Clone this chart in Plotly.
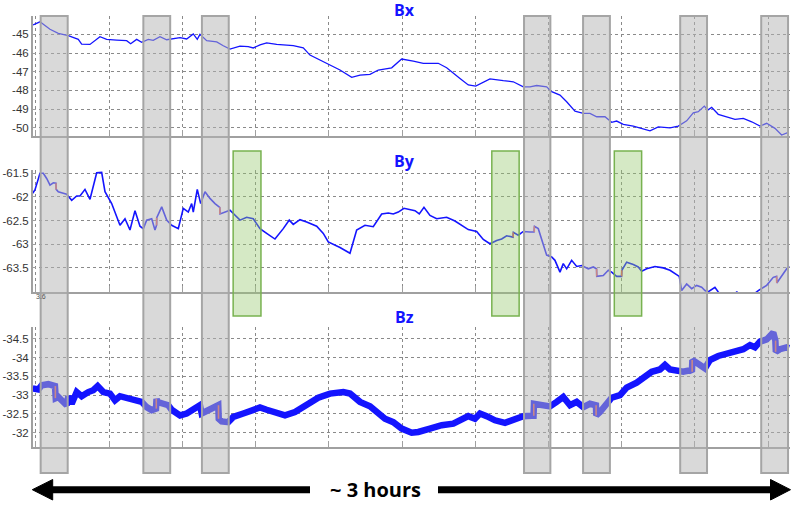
import plotly.graph_objects as go

# ---------------- data (time in minutes, field in nT) ----------------
bx_t = [-0.61, 0.82, 2.87, 4.57, 6.62, 8.67, 9.36, 11.06, 13.11, 14.49, 16.54, 18.58, 19.40, 20.63, 21.66,
        23.01, 24.03, 25.41, 26.78, 28.13, 29.51, 30.88, 32.23, 33.05, 33.60, 34.98, 37.03, 38.38, 39.75,
        41.80, 43.50, 44.52, 45.90, 47.27, 49.32, 52.72, 54.77, 56.14, 59.89, 62.29, 64.69, 66.39, 68.44,
        70.14, 72.88, 74.93, 77.31, 79.36, 82.43, 84.15, 86.88, 88.58, 90.10, 93.02, 95.75, 97.80, 99.85,
        101.22, 102.59, 104.64, 105.67, 107.37, 108.74, 110.44, 112.14, 113.51, 114.89, 116.59, 117.96,
        118.98, 120.34, 122.39, 125.81, 127.51, 129.91, 131.61, 133.33, 134.68, 135.71, 136.94, 137.63,
        138.45, 139.80, 141.53, 143.23, 144.93, 146.65, 148.35, 149.72, 151.42, 152.79, 154.15]
bx_v = [-44.50, -44.33, -44.73, -44.95, -45.07, -45.27, -45.52, -45.54, -45.13, -45.27, -45.31, -45.34, -45.50,
        -45.27, -45.43, -45.27, -45.32, -45.13, -45.29, -45.25, -45.18, -45.25, -44.98, -45.27, -45.00, -45.34,
        -45.41, -45.61, -45.79, -45.63, -45.66, -45.73, -45.57, -45.46, -45.54, -45.61, -45.72, -46.11, -46.61,
        -46.91, -47.30, -47.18, -47.14, -46.91, -46.79, -46.32, -46.43, -46.55, -46.55, -46.79, -47.36, -47.71,
        -47.77, -47.38, -47.48, -47.54, -47.81, -47.81, -47.74, -47.81, -48.07, -48.25, -48.61, -49.11, -49.23,
        -49.23, -49.41, -49.41, -49.71, -49.64, -49.82, -49.91, -50.16, -49.95, -50.00, -49.91, -49.63, -49.20,
        -49.14, -48.84, -49.05, -48.91, -49.28, -49.41, -49.55, -49.50, -49.68, -49.91, -49.76, -50.03, -50.39,
        -50.25]

by_t = [-0.68, -0.21, 0.82, 1.50, 2.19, 2.87, 3.55, 4.10, 4.15, 4.57,
        5.60, 6.29, 7.32, 8.34, 9.02, 10.04, 11.07, 12.44, 13.46, 14.14,
        15.51, 16.54, 17.21, 18.24, 19.26, 20.29, 21.31, 21.99, 22.68, 23.71,
        24.38, 24.70, 24.75, 25.76, 26.78, 27.80, 29.16, 30.18, 31.21, 31.90,
        32.23, 33.05, 33.75, 34.63, 35.65, 36.68, 37.65, 37.72, 39.75, 41.80,
        43.17, 44.52, 45.90, 47.27, 48.97, 50.67, 51.90, 52.72, 54.09, 55.47,
        57.52, 58.87, 59.89, 62.29, 64.34, 65.71, 67.41, 69.11, 70.83, 72.19,
        73.21, 74.24, 75.40, 77.66, 78.54, 79.50, 80.73, 82.10, 84.15, 85.85,
        88.58, 90.30, 91.65, 93.02, 94.40, 95.42, 96.44, 97.75, 97.82, 98.82,
        99.85, 101.22, 102.05, 102.15, 102.92, 104.64, 105.67, 106.34, 107.37, 108.04,
        108.74, 109.76, 110.79, 111.81, 113.17, 114.19, 114.85, 114.92, 116.24, 117.27,
        117.96, 118.98, 119.98, 120.05, 121.03, 122.39, 123.41, 124.11, 125.13, 126.83,
        128.54, 129.91, 131.28, 131.81, 132.30, 133.33, 134.35, 135.38, 136.40, 137.08,
        137.69, 139.12, 139.80, 140.56, 143.00, 143.60, 144.20, 146.30, 148.00, 149.72,
        151.07, 151.75, 151.80, 152.79, 153.82, 154.30]
by_v = [-61.92, -61.85, -61.50, -61.50, -61.61, -61.75, -61.70, -61.71, -61.84, -61.89,
        -61.92, -61.94, -62.07, -61.98, -61.98, -61.84, -62.05, -61.49, -61.48, -61.89,
        -62.14, -62.42, -62.60, -62.46, -62.70, -62.29, -62.62, -62.67, -62.49, -62.46,
        -62.70, -62.60, -62.44, -62.21, -62.49, -62.60, -62.67, -62.24, -62.32, -62.14,
        -62.32, -61.84, -62.14, -61.89, -62.03, -62.14, -62.22, -62.36, -62.28, -62.49,
        -62.43, -62.46, -62.67, -62.77, -62.89, -62.67, -62.49, -62.58, -62.48, -62.53,
        -62.62, -62.77, -62.95, -63.07, -63.19, -62.70, -62.60, -62.63, -62.36, -62.34,
        -62.36, -62.32, -62.24, -62.29, -62.36, -62.22, -62.39, -62.46, -62.43, -62.51,
        -62.69, -62.73, -62.90, -62.99, -62.92, -62.89, -62.82, -62.85, -62.75, -62.81,
        -62.73, -62.74, -62.74, -62.62, -62.67, -63.23, -63.27, -63.34, -63.59, -63.41,
        -63.52, -63.34, -63.47, -63.45, -63.52, -63.48, -63.52, -63.68, -63.66, -63.55,
        -63.59, -63.68, -63.68, -63.55, -63.38, -63.43, -63.48, -63.57, -63.52, -63.47,
        -63.50, -63.55, -63.64, -63.68, -63.98, -63.84, -63.94, -63.87, -63.91, -63.98,
        -64.01, -63.91, -64.01, -64.10, -64.12, -64.00, -64.12, -64.12, -63.98, -63.87,
        -63.70, -63.68, -63.82, -63.66, -63.52, -63.46]

bz_t = [-0.68, 0.47, 1.17, 2.52, 3.89, 4.05, 4.57, 5.59, 6.29, 6.62,
        7.32, 8.34, 9.36, 10.72, 11.74, 12.64, 13.79, 15.16, 16.19, 17.21,
        18.58, 19.94, 21.66, 22.68, 23.71, 24.59, 24.70, 24.85, 26.08, 27.11,
        27.80, 29.51, 30.88, 32.23, 33.60, 33.95, 35.30, 37.35, 37.45, 38.05,
        39.40, 40.43, 42.48, 44.52, 45.90, 47.27, 48.97, 51.02, 53.07, 55.47,
        57.84, 60.24, 62.97, 64.34, 66.39, 68.44, 70.14, 71.51, 73.21, 74.93,
        76.98, 78.33, 80.73, 83.13, 85.51, 87.23, 88.58, 89.95, 90.98, 92.35,
        94.05, 96.10, 97.80, 99.85, 101.57, 101.95, 102.04, 103.27, 105.32, 106.69,
        108.04, 109.42, 110.79, 112.14, 113.51, 114.74, 114.80, 115.56, 116.93, 117.96,
        119.66, 121.03, 123.08, 124.44, 126.16, 127.86, 128.88, 129.91, 131.28, 132.63,
        134.00, 134.40, 134.50, 134.68, 136.05, 137.07, 138.09, 139.80, 141.53, 143.57,
        144.93, 146.30, 147.32, 148.35, 149.72, 151.07, 151.50, 151.60, 152.44, 153.82,
        154.30]
bz_v = [-33.18, -33.15, -33.26, -33.29, -33.24, -32.92, -32.95, -32.82, -32.73, -32.97,
        -32.77, -33.08, -32.97, -33.08, -33.13, -33.24, -33.08, -33.04, -32.86, -32.97,
        -32.91, -32.88, -32.82, -32.68, -32.60, -32.64, -32.90, -32.82, -32.77, -32.73,
        -32.61, -32.46, -32.51, -32.64, -32.73, -32.51, -32.58, -32.73, -32.37, -32.30,
        -32.28, -32.42, -32.51, -32.60, -32.67, -32.61, -32.55, -32.46, -32.55, -32.73,
        -32.93, -33.04, -33.08, -33.04, -32.82, -32.70, -32.51, -32.37, -32.28, -32.11,
        -32.00, -32.02, -32.11, -32.20, -32.24, -32.37, -32.44, -32.37, -32.51, -32.44,
        -32.33, -32.26, -32.35, -32.44, -32.45, -32.45, -32.77, -32.75, -32.70, -32.82,
        -32.95, -32.73, -32.82, -32.68, -32.77, -32.73, -32.46, -32.55, -32.77, -32.93,
        -33.00, -33.20, -33.33, -33.47, -33.62, -33.68, -33.80, -33.68, -33.66, -33.62,
        -33.66, -33.62, -33.93, -33.91, -33.80, -33.71, -33.93, -34.04, -34.09, -34.15,
        -34.22, -34.33, -34.27, -34.42, -34.48, -34.66, -34.45, -34.15, -34.22, -34.27,
        -34.25]

# jumps (flagged in red): time, value before, value after
by_jump_t = [4.12, 24.72, 37.68, 97.78, 102.10, 114.88, 120.01, 151.78]
by_jump_from = [-61.71, -62.60, -62.22, -62.85, -62.74, -63.52, -63.68, -63.68]
by_jump_to = [-61.84, -62.44, -62.36, -62.75, -62.62, -63.68, -63.55, -63.82]
bz_jump_t = [3.97, 24.65, 37.40, 102.00, 114.77, 134.45, 151.55]
bz_jump_from = [-33.24, -32.64, -32.73, -32.45, -32.73, -33.62, -34.45]
bz_jump_to = [-32.92, -32.90, -32.37, -32.77, -32.46, -33.93, -34.15]

# tick labels
bx_ticks = [-45, -46, -47, -48, -49, -50]
bx_ticktext = ["-45", "-46", "-47", "-48", "-49", "-50"]
by_ticks = [-61.5, -62, -62.5, -63, -63.5]
by_ticktext = ["-61.5", "-62", "-62.5", "-63", "-63.5"]
bz_ticks = [-34.5, -34, -33.5, -33, -32.5, -32]
bz_ticktext = ["-34.5", "-34", "-33.5", "-33", "-32.5", "-32"]

# event windows (minutes)
grey_start = [0.96, 22.0, 34.0, 100.0, 112.1, 132.0, 148.6]
grey_end = [6.5, 27.5, 39.5, 105.4, 117.6, 137.5, 154.1]
green_start = [40.4, 93.4, 118.5]
green_end = [46.1, 99.0, 124.1]

panel_titles = ["Bx", "By", "Bz"]
span_label = "~ 3 hours"

# ---------------- figure ----------------
W, H = 797, 508
BLUE = "#1414ff"
RED = "#e05a5a"


def jump_xy(ts, a, b):
    xs, ys = [], []
    for t, y0, y1 in zip(ts, a, b):
        xs += [t, t, None]
        ys += [y0, y1, None]
    return xs, ys


fig = go.Figure()
fig.add_trace(go.Scatter(x=bx_t, y=bx_v, mode="lines", line=dict(color=BLUE, width=1.3),
                         xaxis="x", yaxis="y", showlegend=False))
fig.add_trace(go.Scatter(x=by_t, y=by_v, mode="lines", line=dict(color=BLUE, width=1.6),
                         xaxis="x2", yaxis="y2", showlegend=False))
jx, jy = jump_xy(by_jump_t, by_jump_from, by_jump_to)
fig.add_trace(go.Scatter(x=jx, y=jy, mode="lines", line=dict(color=RED, width=1.6),
                         xaxis="x2", yaxis="y2", showlegend=False))
fig.add_trace(go.Scatter(x=bz_t, y=bz_v, mode="lines", line=dict(color=BLUE, width=6.5),
                         xaxis="x3", yaxis="y3", showlegend=False))
jx, jy = jump_xy(bz_jump_t, bz_jump_from, bz_jump_to)
fig.add_trace(go.Scatter(x=jx, y=jy, mode="lines", line=dict(color=RED, width=1.6),
                         xaxis="x3", yaxis="y3", showlegend=False))

XR = [-0.61, 154.5]
GRID = "#8a8a8a"
AXL = "#a0a0a0"
tickfont = dict(family="Liberation Sans, Arial, sans-serif", size=11.5, color="#333333")

xcommon = dict(range=XR, showticklabels=False, showgrid=True, gridcolor=GRID, griddash="dot",
               gridwidth=1, tick0=0, dtick=15, ticks="inside", ticklen=6, tickcolor=AXL,
               showline=True, linecolor=AXL, linewidth=2, zeroline=False, automargin=False)
ycommon = dict(showgrid=True, gridcolor=GRID, griddash="dot", gridwidth=1, ticks="inside",
               ticklen=3, tickcolor=AXL, showline=True, linecolor=AXL, linewidth=2,
               zeroline=False, tickfont=tickfont, tickmode="array", automargin=False)


def py(p):
    return 1 - p / H


fig.update_layout(
    width=W, height=H, margin=dict(l=33, r=7, t=0, b=0, autoexpand=False),
    paper_bgcolor="white", plot_bgcolor="white",
    xaxis=dict(anchor="y", **xcommon),
    xaxis2=dict(anchor="y2", matches="x", **xcommon),
    xaxis3=dict(anchor="y3", matches="x", **xcommon),
    yaxis=dict(domain=[py(136), py(16)], range=[-50.44, -44.02], tickvals=bx_ticks,
               ticktext=bx_ticktext, anchor="x", **ycommon),
    yaxis2=dict(domain=[py(292), py(170)], range=[-64.01, -61.43], tickvals=by_ticks,
                ticktext=by_ticktext, anchor="x2", **ycommon),
    yaxis3=dict(domain=[py(447), py(327)], range=[-31.62, -34.81], tickvals=bz_ticks,
                ticktext=bz_ticktext, anchor="x3", **ycommon),
)

shapes = []
for a, b in zip(grey_start, grey_end):
    shapes.append(dict(type="rect", xref="x", yref="paper", x0=a, x1=b, y0=py(473), y1=py(16),
                       fillcolor="rgba(179,179,179,0.5)", line=dict(color="rgb(165,165,165)", width=2),
                       layer="above"))
for a, b in zip(green_start, green_end):
    shapes.append(dict(type="rect", xref="x", yref="paper", x0=a, x1=b, y0=py(316), y1=py(151),
                       fillcolor="rgba(150,200,110,0.4)", line=dict(color="rgb(120,178,80)", width=1.5),
                       layer="above"))


def px(p):
    return (p - 33) / (W - 40)


# double-headed arrow
ay = py(489.7)
shapes.append(dict(type="line", xref="paper", yref="paper", x0=px(50), x1=px(310), y0=ay, y1=ay,
                   line=dict(color="black", width=7)))
shapes.append(dict(type="line", xref="paper", yref="paper", x0=px(438), x1=px(773), y0=ay, y1=ay,
                   line=dict(color="black", width=7)))
shapes.append(dict(type="path", xref="paper", yref="paper",
                   path=f"M {px(32.3)},{ay} L {px(52.7)},{py(479.5)} L {px(52.7)},{py(500)} Z",
                   fillcolor="black", line=dict(color="black", width=1)))
shapes.append(dict(type="path", xref="paper", yref="paper",
                   path=f"M {px(790.5)},{ay} L {px(770.5)},{py(479.5)} L {px(770.5)},{py(500)} Z",
                   fillcolor="black", line=dict(color="black", width=1)))
fig.update_layout(shapes=shapes)

annotations = []
title_font = dict(family="Open Sans, Liberation Sans, sans-serif", size=16, color=BLUE)
for name, yc in zip(panel_titles, [10.0, 161.0, 317.0]):
    annotations.append(dict(text=f"<b>{name}</b>", xref="paper", yref="paper", x=px(404), y=py(yc),
                            xanchor="center", yanchor="middle", showarrow=False, font=title_font))
annotations.append(dict(text=f"<b>{span_label}</b>", xref="paper", yref="paper", x=px(375), y=py(489.5),
                        xanchor="center", yanchor="middle", showarrow=False,
                        font=dict(family="Open Sans, Liberation Sans, sans-serif", size=20, color="black")))
annotations.append(dict(text="3.6", xref="paper", yref="paper", x=px(34), y=py(296.5),
                        xanchor="left", yanchor="middle", showarrow=False,
                        font=dict(family="Liberation Sans, Arial, sans-serif", size=7, color="#555555")))
fig.update_layout(annotations=annotations)

fig.write_html("out.html", config={"displayModeBar": False},
               post_script="document.body.style.margin='0';document.body.style.overflow='hidden';")
